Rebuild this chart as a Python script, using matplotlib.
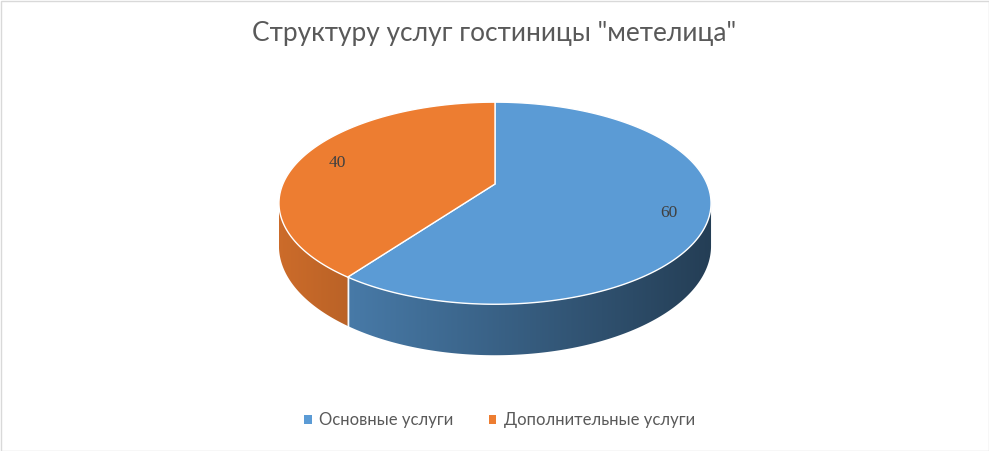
import numpy as np
import matplotlib
matplotlib.use("Agg")
import matplotlib.pyplot as plt
from matplotlib.patches import Polygon, Rectangle, Patch

# chart data
categories = ["Основные услуги", "Дополнительные услуги"]
values = [60, 40]
colors = ["#5b9bd5", "#ed7d31"]
title = 'Структуру услуг гостиницы "метелица"'

# geometry of the 3d disk (pixels); Q is the perspective strength
W, H = 989, 451
CX, CY = 495, 184
A, B = 212.1, 97.4
Q = 0.19
DEPTH = 41.3


def pt(t, h=0.0, r=1.0):
    t = np.radians(t)
    s = 1.0 / (1.0 + Q * r * np.sin(t))
    return CX + A * r * np.cos(t) * s, CY - B * r * np.sin(t) * s + h * s


def shade(x):
    # darker to the right, like excel's side lighting
    x0 = CX - A / np.sqrt(1 - Q * Q)
    return 0.86 - (x - x0) / (2 * (CX - x0)) * 0.46


def main():
    fig = plt.figure(figsize=(W / 100, H / 100), dpi=100)
    ax = fig.add_axes([0, 0, 1, 1])
    ax.set_xlim(0, W)
    ax.set_ylim(H, 0)
    ax.axis("off")

    total = float(sum(values))
    start = 90.0
    spans = []
    for v in values:
        end = start - v / total * 360.0
        spans.append((start, end))
        start = end

    # visible part of the side lies between the two silhouette angles
    sil = np.degrees(np.arcsin(Q))
    front_lo, front_hi = -180 + sil, -sil
    rx_max = A / np.sqrt(1 - Q * Q)

    for (t1, t2), c in zip(spans, colors):
        lo = hi = None
        for off in (0, -360, 360):
            l2 = max(min(t1, t2) + off, front_lo)
            h2 = min(max(t1, t2) + off, front_hi)
            if l2 < h2:
                lo, hi = l2, h2
                break
        if lo is None:
            continue
        ts = np.linspace(lo, hi, 200)
        top = [pt(t) for t in ts]
        bot = [pt(t, DEPTH) for t in ts[::-1]]
        poly = Polygon(top + bot, closed=True, facecolor="none", edgecolor="none")
        ax.add_patch(poly)
        xs = np.linspace(CX - rx_max, CX + rx_max, 400)
        base = np.array(matplotlib.colors.to_rgb(c))
        img = np.clip(shade(xs)[:, None] * base[None, :], 0, 1)[None, :, :]
        im = ax.imshow(img, extent=(CX - rx_max, CX + rx_max, H, CY - 10),
                       aspect="auto", interpolation="bilinear", zorder=1)
        im.set_clip_path(poly)
        # seam between slices on the side
        for t in (lo, hi):
            if front_lo < t < front_hi:
                x0, y0 = pt(t)
                x1, y1 = pt(t, DEPTH)
                ax.plot([x0, x1], [y0, y1], color="white", lw=1.0, alpha=0.8, zorder=2)

    # top faces
    for (t1, t2), c in zip(spans, colors):
        ts = np.linspace(t1, t2, 300)
        verts = [(CX, CY)] + [pt(t) for t in ts]
        ax.add_patch(Polygon(verts, closed=True, facecolor=c, edgecolor="white",
                             lw=1.0, zorder=3))

    # data labels
    for (t1, t2), v in zip(spans, values):
        x, y = pt((t1 + t2) / 2, r=0.82)
        ax.text(x, y + 3, str(v), ha="center", va="center", fontsize=12.5,
                family="Liberation Serif", color="#404040", zorder=4)

    # frame
    ax.add_patch(Rectangle((0.5, 0.5), W - 1, H - 1, fill=False, edgecolor="#d9d9d9", lw=1))

    fig.text(0.5, 1 - 34 / H, title, ha="center", va="center", fontsize=18.9,
             family="Lato", color="#595959")

    handles = [Patch(facecolor=c, edgecolor="none") for c in colors]
    fig.legend(handles, categories, loc="center", bbox_to_anchor=(0.505, 1 - 420 / H),
               ncol=2, frameon=False, handlelength=0.45, handleheight=0.45,
               handletextpad=0.45, columnspacing=2.1,
               prop={"family": "Lato", "size": 12}, labelcolor="#595959")

    fig.savefig("out.png", dpi=100)


if __name__ == "__main__":
    main()
